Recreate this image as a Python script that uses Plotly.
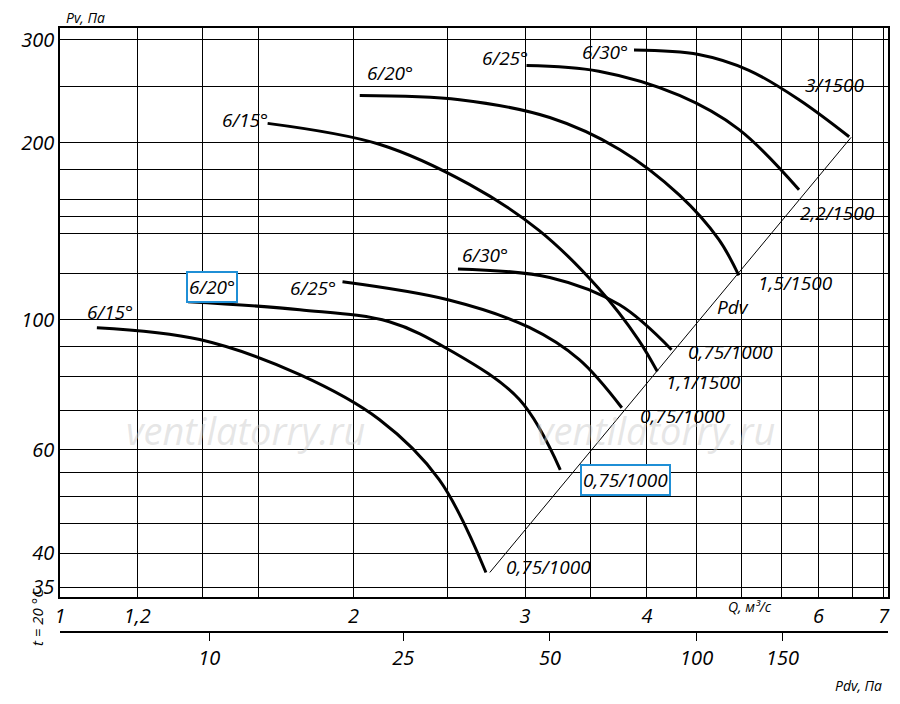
import plotly.graph_objects as go
import numpy as np

# data (Q m3/s, Pv Pa)
curves = {
 "A": ([1.091,1.391,1.762,2.126,2.449,2.735],[96.9,92.5,80.6,67.6,53.4,37.1]),
 "B": ([1.353,1.762,2.177,2.506,2.96,3.26],[107.3,104,99.2,88.9,73.1,55.5]),
 "C": ([1.949,2.506,3.03,3.41,3.77],[116,108,97,85.5,70.8]),
 "D": ([2.56,3.18,3.75,4.24],[122,118,106,88.9]),
 "E": ([1.633,2.126,2.63,3.10,3.57,3.92,4.1],[216,199,170,142,113,92.5,81.6]),
 "F": ([2.03,2.57,3.18,3.75,4.32,4.74,4.97],[241,237,221,195,163,137,119]),
 "G": ([3.01,3.57,4.32,4.97,5.73],[271,265,241,211,166.5]),
 "H": ([3.88,4.52,5.09,5.73,6.45],[288,283,266,237,205]),
}
pdv_q = [2.76, 6.48]
pdv_k = 4.87
q_grid = [1.2,1.4,1.6,2,2.5,3,3.5,4,4.5,5,5.5,6,6.5,7]
q_labels = {1:"1",1.2:"1,2",2:"2",3:"3",4:"4",6:"6",7:"7"}
pv_grid = [35,40,45,50,55,60,70,80,90,100,120,140,150,160,180,200,250,300]
pv_labels = {35:"35",40:"40",60:"60",100:"100",200:"200",300:"300"}
pdv_ticks = [10,25,50,100,150]

labels = [("6/15°",110,312,False),("6/20°",212,287,True),("6/25°",313,288,False),("6/30°",485,255,False),
 ("6/15°",245,120,False),("6/20°",390,73,False),("6/25°",505,58,False),("6/30°",605,52,False),
 ("3/1500",835,85,False),("2,2/1500",837,213,False),("1,5/1500",795,283,False),("0,75/1000",730,352,False),
 ("1,1/1500",703,382,False),("0,75/1000",682,416,False),("0,75/1000",625,480,True),("0,75/1000",548,567,False),
 ("Pdv",733,307,False)]

F = "Open Sans"
fig = go.Figure()
for k,(x,y) in curves.items():
    fig.add_trace(go.Scatter(x=x,y=y,mode="lines",line=dict(color="black",width=3,shape="spline"),showlegend=False))
fig.add_trace(go.Scatter(x=pdv_q,y=[pdv_k*q*q for q in pdv_q],mode="lines",line=dict(color="black",width=1),showlegend=False))
fig.add_trace(go.Scatter(x=[10,100],y=[None,None],xaxis="x2",showlegend=False))

def px(x,y): return (x-60)/828,(632-y)/604
C = dict(xref="paper",yref="paper",showarrow=False,xanchor="center",yanchor="middle")
ann=[]
for t,x,y,box in labels:
    a,b=px(x,y)
    ann.append(dict(text=t,x=a,y=b,**C,
        font=dict(family=F,size=19,style="italic",color="black"),
        bordercolor="#1f8fd6" if box else None,borderwidth=2 if box else 0,bgcolor="white" if box else None,borderpad=1))
for t,x,y,s,ang in [("Pv, Па",85,17,14,0),("Q, м³/с",750,606,14,0),("Pdv, Па",858,685,14,0),("t = 20 °C",37,617,15,-90)]:
    a,b=px(x,y)
    ann.append(dict(text=t,x=a,y=b,**C,textangle=ang,
        font=dict(family=F,size=s,style="italic",color="black")))
for x in [245,655]:
    a,b=px(x,430)
    ann.append(dict(text="ventilatorry.ru",x=a,y=b,**C,
        font=dict(family=F,size=38,style="italic",color="rgba(200,200,200,0.45)")))

fig.update_layout(width=892,height=688,margin=dict(l=52,r=12,t=20,b=64),plot_bgcolor="white",paper_bgcolor="white",
  annotations=ann,
  xaxis=dict(type="log",range=[0,np.log10(7.07)],tickvals=[1]+q_grid,automargin=False,
     ticktext=[q_labels.get(v,"") for v in [1]+q_grid],showgrid=True,gridcolor="black",gridwidth=1,
     showline=True,linecolor="black",mirror=True,linewidth=1.5,ticks="",anchor="y",
     tickfont=dict(family=F,size=20,style="italic",color="black"),zeroline=False),
  yaxis=dict(type="log",domain=[0.058,1],range=[np.log10(33.7),np.log10(314)],tickvals=pv_grid,automargin=False,
     ticktext=[pv_labels.get(v,"") for v in pv_grid],showgrid=True,gridcolor="black",gridwidth=1,
     showline=True,linecolor="black",mirror=True,linewidth=1.5,ticks="",
     tickfont=dict(family=F,size=20,style="italic",color="black")),
  xaxis2=dict(type="log",range=[np.log10(4.94),np.log10(247)],anchor="free",position=0,overlaying="x",automargin=False,
     tickvals=pdv_ticks,ticktext=[str(v) for v in pdv_ticks],showgrid=False,showline=True,linecolor="black",
     linewidth=1.5,ticks="outside",ticklen=8,tickcolor="black",
     tickfont=dict(family=F,size=20,style="italic",color="black")))
fig.write_html("out.html")
